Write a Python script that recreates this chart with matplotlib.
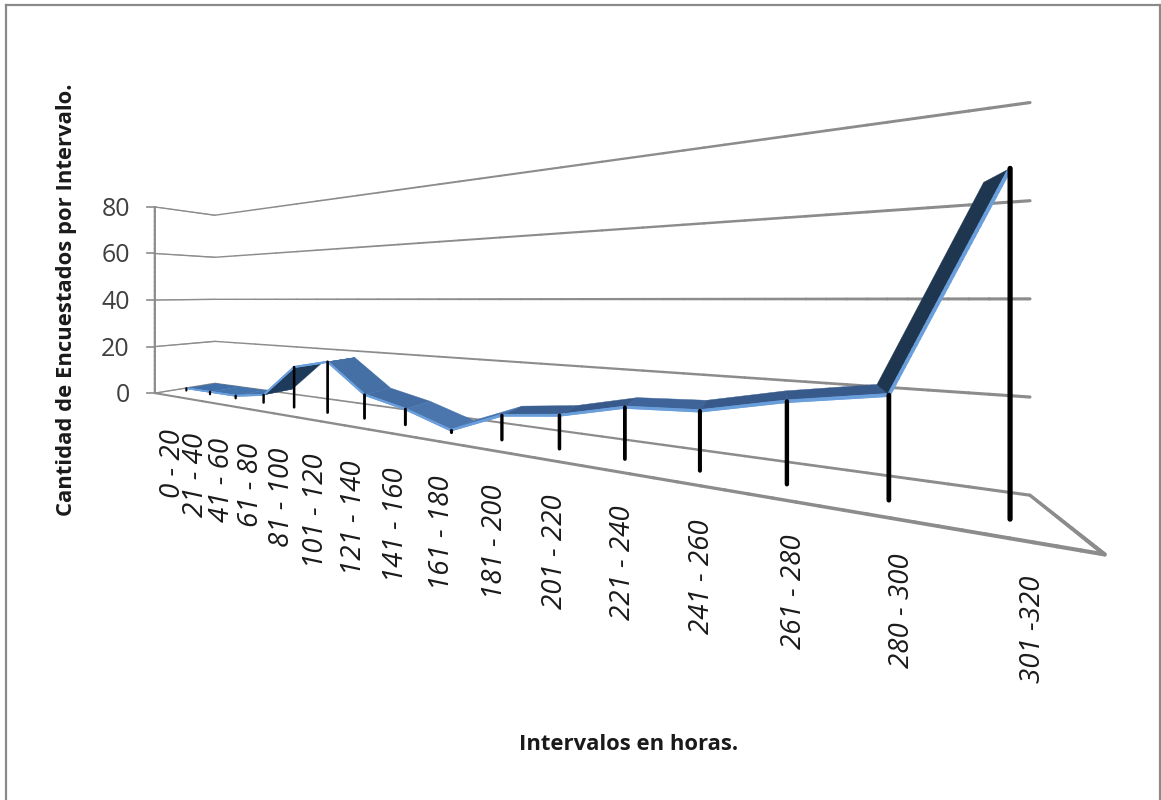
import numpy as np
import matplotlib
matplotlib.use('Agg')
import matplotlib.pyplot as plt
from matplotlib.collections import LineCollection
from matplotlib.patches import Polygon

# --datos
categorias = ['0 - 20', '21 - 40', '41 - 60', '61 - 80', '81 - 100', '101 - 120',
              '121 - 140', '141 - 160', '161 - 180', '181 - 200', '201 - 220',
              '221 - 240', '241 - 260', '261 - 280', '280 - 300', '301 -320']
encuestados = [1, 1, 1, 3, 15, 18, 8, 5, 0.5, 7, 9, 13, 14, 18, 21, 64]
ticks_y = [0, 20, 40, 60, 80]

color_cara = ['#3f6fa8', '#4474ae', '#4474ae', '#1f3b5c', '#4070a5', '#4570a5', '#446ea3',
              '#4a76ad', '#4a76ad', '#3a5f90', '#375a8b', '#3e649a', '#375a8b', '#375a8b',
              '#1f3650']
gris = '#8c8c8c'

# --camara: (categoria, profundidad, valor) -> pixel de la figura
t_izq, t_der = -0.35, 15.45
prof_serie = 0.63
ancho_serie = 0.5
esquinas = [((t_izq, 0, 0), (215, 383)), ((t_der, 0, 0), (1030, 495)),
            ((t_izq, 1, 0), (155, 393)), ((t_der, 1, 0), (1105, 552)),
            ((t_izq, 0, 80), (215, 215)), ((t_der, 0, 80), (1030, 103)),
            ((t_izq, 1, 80), (155, 207))]
pie_x = [186, 209, 234, 262, 293, 327, 364, 405, 453, 501, 559, 624, 699, 787, 888, 1010]
pie_y = [392, 396, 400, 404, 409, 414, 420, 427, 434, 442, 452, 462, 474, 487, 504, 522]

A, b = [], []


def fila(t, d, z, u=None, v=None, peso=1.0):
    if u is not None:
        A.append([peso * k for k in (t, d, z, 1, 0, 0, 0, 0, -u * t, -u * d, -u * z)])
        b.append(peso * u)
    if v is not None:
        A.append([peso * k for k in (0, 0, 0, 0, t, d, z, 1, -v * t, -v * d, -v * z)])
        b.append(peso * v)


for (t, d, z), (u, v) in esquinas:
    fila(t, d, z, u, v, peso=4.0)
fila(t_der, 1, 80, u=1105, peso=4.0)
for i in range(16):
    fila(i, prof_serie, 0, pie_x[i], pie_y[i])
    fila(i, prof_serie, 80, u=pie_x[i])
sol = np.linalg.lstsq(np.array(A, float), np.array(b, float), rcond=None)[0]
P = np.append(sol, 1).reshape(3, 4)


def proyectar(t, d, z):
    q = P @ np.array([t, d, z, 1.0])
    return q[0] / q[2], q[1] / q[2]


def escala(t, d=prof_serie):
    # pixeles por unidad de valor en ese punto, sirve para engrosar lo cercano
    return proyectar(t, d, 0)[1] - proyectar(t, d, 1)[1]


fig = plt.figure(figsize=(11.61, 8.0), dpi=100)
ax = fig.add_axes([0, 0, 1, 1])
ax.set_xlim(0, 1161)
ax.set_ylim(800, 0)
ax.axis('off')


def linea(p0, p1, w0, w1, color=gris, z=2):
    # linea recta con grosor variable (en pixeles) de un extremo al otro
    s = np.linspace(0, 1, 41)
    xs = p0[0] + (p1[0] - p0[0]) * s
    ys = p0[1] + (p1[1] - p0[1]) * s
    segs = [[(xs[k], ys[k]), (xs[k + 1], ys[k + 1])] for k in range(40)]
    anchos = (w0 + (w1 - w0) * s[:-1]) * 0.72
    ax.add_collection(LineCollection(segs, colors=color, linewidths=anchos,
                                     capstyle='round', zorder=z))


# --marco
ax.plot([6, 6], [800, 5], color='#8a8a8a', lw=1.6)
ax.plot([6, 1160], [5, 5], color='#8a8a8a', lw=1.6)
ax.plot([1160, 1160], [5, 800], color='#8a8a8a', lw=1.6)

# --paredes y suelo
for val in ticks_y:
    izq = proyectar(t_izq, 1, val)
    fondo = proyectar(t_izq, 0, val)
    der = proyectar(t_der, 0, val)
    linea(izq, fondo, 1.3, 1.4)
    linea(fondo, der, 1.4, 3.2)
    ax.plot([izq[0] - 8, izq[0]], [izq[1], izq[1]], color=gris, lw=1.2)
    ax.text(izq[0] - 25, izq[1] + 2.5, str(val), ha='right', va='center', fontsize=18,
            family='Open Sans', color='#404040')
eje0 = proyectar(t_izq, 1, 0)
eje1 = proyectar(t_izq, 1, 80)
linea(eje0, eje1, 2.2, 2.2)
frente0 = proyectar(t_izq, 1, 0)
frente1 = proyectar(t_der, 1, 0)
linea(frente0, frente1, 2.0, 4.2)
linea(proyectar(t_der, 0, 0), frente1, 3.2, 4.2)

# --cinta de la serie
for i in range(len(encuestados) - 1):
    a = proyectar(i, prof_serie, encuestados[i])
    c = proyectar(i + 1, prof_serie, encuestados[i + 1])
    a2 = proyectar(i, prof_serie - ancho_serie, encuestados[i])
    c2 = proyectar(i + 1, prof_serie - ancho_serie, encuestados[i + 1])
    ax.add_patch(Polygon([a, c, c2, a2], closed=True, fc=color_cara[i], ec=color_cara[i],
                         lw=0.3, zorder=3))
for i in range(len(encuestados) - 1):
    a = proyectar(i, prof_serie, encuestados[i])
    c = proyectar(i + 1, prof_serie, encuestados[i + 1])
    linea(a, c, escala(i) * 0.75, escala(i + 1) * 0.75, color='#6a9fdc', z=4)

# --lineas de caida
for i, val in enumerate(encuestados):
    tope = proyectar(i, prof_serie, val)
    pie = proyectar(i, prof_serie, 0)
    ax.plot([tope[0], pie[0]], [tope[1], pie[1]], color='black',
            lw=escala(i) * 0.72 * 0.95, solid_capstyle='round', zorder=5)

# --etiquetas de categoria, colgadas bajo el borde delantero del suelo
pendiente = (frente1[1] - frente0[1]) / (frente1[0] - frente0[0])
for i, nom in enumerate(categorias):
    x = proyectar(i, 0.85, 0)[0]
    x = x + 0.01 * (x - 167)
    y = frente0[1] + (x - frente0[0]) * pendiente + 33
    ax.text(x, y, nom, rotation=90, ha='center', va='top', fontsize=20, style='italic',
            family='Open Sans', color='#1a1a1a')

# --titulos de ejes
ax.text(67, 300, 'Cantidad de Encuestados por Intervalo.', rotation=90, ha='center',
        va='center', fontsize=15.8, fontweight='bold', family='Open Sans', color='#1a1a1a')
ax.text(629, 744, 'Intervalos en horas.', ha='center', va='center', fontsize=15.8,
        fontweight='bold', family='Open Sans', color='#1a1a1a')

fig.savefig('out.png', dpi=100)
